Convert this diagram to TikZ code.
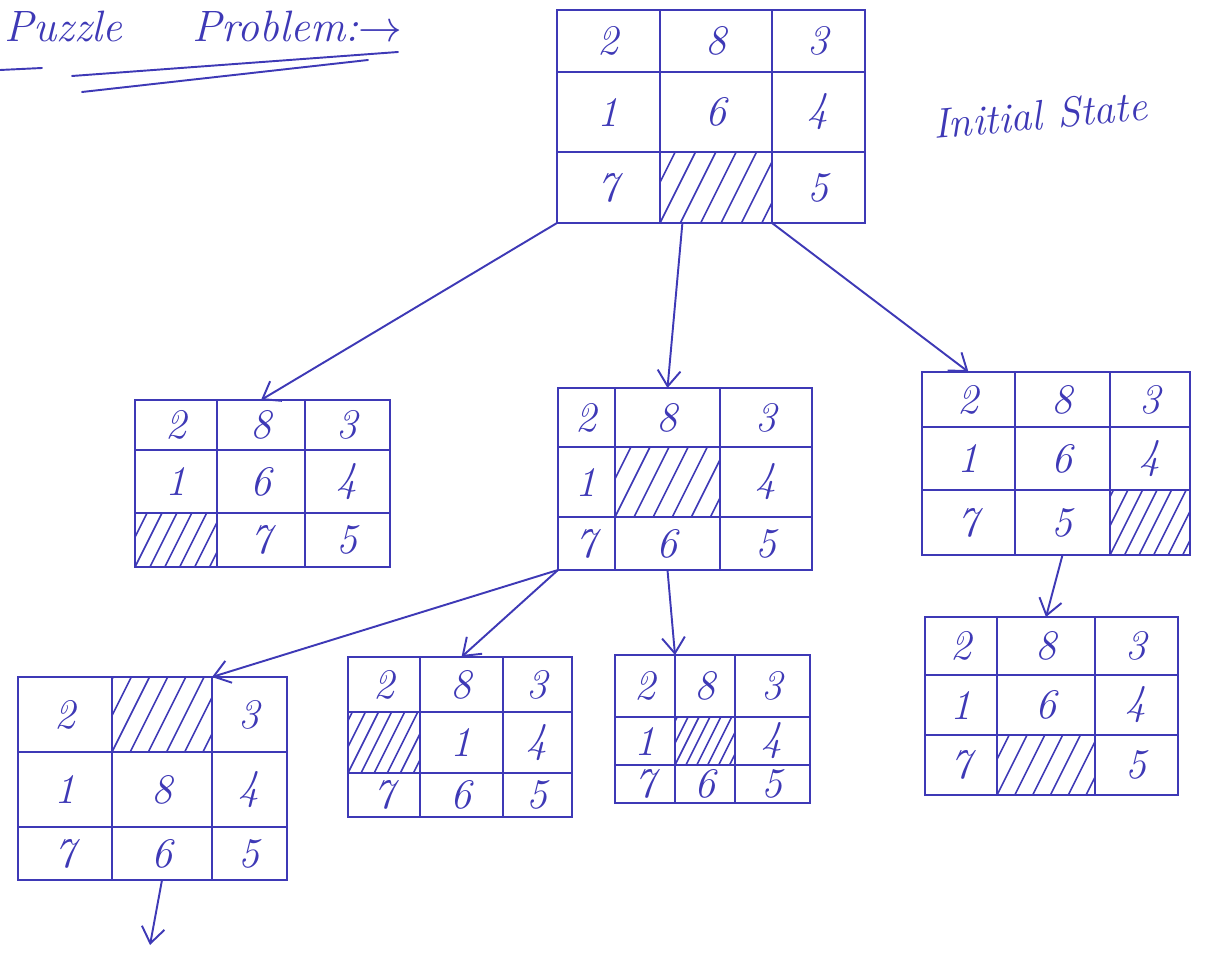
\documentclass[tikz,border=0pt]{standalone}
\usetikzlibrary{arrows.meta,calc}
\definecolor{inkBlue}{HTML}{3E39B6}
\tikzset{
  pen/.style={draw=inkBlue, line width=1.1pt, line cap=round},
  cell/.style={pen, inner sep=0pt, outer sep=0pt, text=inkBlue, font=\fontsize{24}{28}\selectfont\itshape},
  hatch/.style={draw=inkBlue, line width=0.9pt},
  arr/.style={pen, -{Straight Barb[length=9pt,width=13pt]}},
  note/.style={text=inkBlue, inner sep=0pt, font=\fontsize{24}{28}\selectfont\itshape},
}
% one 3x3 board: name, column edges, row edges, tiles (0 = blank, hatched)
\newcommand{\board}[4]{%
  \foreach \k in {0,...,8} {
    \pgfmathtruncatemacro{\r}{int(\k/3)}
    \pgfmathtruncatemacro{\c}{mod(\k,3)}
    \pgfmathtruncatemacro{\rn}{\r+1}
    \pgfmathtruncatemacro{\cn}{\c+1}
    \pgfmathsetmacro{\xa}{{#2}[\c]}
    \pgfmathsetmacro{\xb}{{#2}[\cn]}
    \pgfmathsetmacro{\ya}{{#3}[\r]}
    \pgfmathsetmacro{\yb}{{#3}[\rn]}
    \pgfmathtruncatemacro{\e}{{#4}[\k]}
    \ifnum\e=0
      \begin{scope}
        \clip (\xa,\ya) rectangle (\xb,\yb);
        \foreach \i in {-2,...,6}
          \draw[hatch] ({\xa+\i*(\xb-\xa)/5.5},\yb) -- ++({0.5*(\yb-\ya)},{\ya-\yb});
      \end{scope}
    \fi
    \node[cell, minimum width={(\xb-\xa)*0.02cm}, minimum height={(\yb-\ya)*0.02cm}]
      (#1-\k) at ({(\xa+\xb)/2},{(\ya+\yb)/2}) {\ifnum\e=0 \else\e\fi};
  }%
}

\begin{document}
\begin{tikzpicture}[x=0.02cm, y=-0.02cm]
  \useasboundingbox (0,0) rectangle (1224,955);

  % heading
  \node[note, font=\fontsize{25}{29}\selectfont\itshape, anchor=base west] (title) at (4,42)
    {Puzzle\hspace{1.6em}Problem:$\rightarrow$};
  \draw[pen] (0,70) -- (42,68);
  \draw[pen] (72,76) -- (398,52);
  \draw[pen] (82,92) -- (368,60);

  % boards
  \board{root}{557,660,772,865}{10,72,152,223}{2,8,3,1,6,4,7,0,5}
  \board{lft}{135,217,305,390}{400,450,513,567}{2,8,3,1,6,4,0,7,5}
  \board{mid}{558,615,720,812}{388,447,517,570}{2,8,3,1,0,4,7,6,5}
  \board{rgt}{922,1015,1110,1190}{372,427,490,555}{2,8,3,1,6,4,7,5,0}
  \board{ll}{18,112,212,287}{677,752,827,880}{2,0,3,1,8,4,7,6,5}
  \board{lm}{348,420,503,572}{657,712,773,817}{2,8,3,0,1,4,7,6,5}
  \board{lr}{615,675,735,810}{655,717,765,803}{2,8,3,1,0,4,7,6,5}
  \board{rr}{925,997,1095,1178}{617,675,735,795}{2,8,3,1,6,4,7,0,5}

  \node[note, rotate=5] (init) at (1040,115) {Initial State};

  % moves
  \draw[arr] (root-6.south west) -- (lft-1.north);
  \draw[arr] ($(root-7.south west)!0.2!(root-7.south east)$) -- (mid-1.north);
  \draw[arr] (root-8.south west) -- (rgt-0.north);
  \draw[arr] (mid-6.south west) -- (ll-1.north east);
  \draw[arr] (mid-6.south west) -- (lm-1.north);
  \draw[arr] (mid-7.south) -- (lr-0.north east);
  \draw[arr] (rgt-7.south) -- (rr-1.north);
  \coordinate (llnext) at (150,945);
  \draw[arr] (ll-7.south) -- (llnext);
\end{tikzpicture}
\end{document}
